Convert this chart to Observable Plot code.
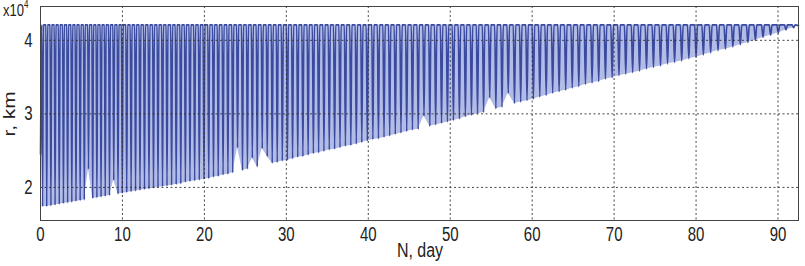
<!DOCTYPE html>
<html><head><meta charset="utf-8">
<script src="https://cdn.jsdelivr.net/npm/d3@7"></script>
<script src="https://cdn.jsdelivr.net/npm/@observablehq/plot@0.6"></script>
<style>
body{margin:0;background:#fff;}
svg text{font-family:"Liberation Sans",Arial,sans-serif;}
</style></head><body><div id="chart"></div>
<script>
// Perigee passages: day and radius (x10^4 km)
const perigeeDay = [
0.25,0.76,1.27,1.78,2.29,2.80,3.31,3.82,4.33,4.84,5.35,5.86,6.37,6.88,7.39,7.90,8.42,8.94,9.46,9.98,
10.52,11.06,11.60,12.14,12.69,13.24,13.79,14.34,14.89,15.44,16.00,16.56,17.12,17.68,18.24,18.81,19.38,19.95,
20.53,21.11,21.69,22.28,22.87,23.46,24.05,24.65,25.25,25.85,26.45,27.06,27.67,28.28,28.89,29.51,
30.13,30.76,31.39,32.02,32.66,33.30,33.94,34.59,35.24,35.89,36.55,37.21,37.87,38.54,39.21,39.88,
40.56,41.24,41.92,42.61,43.30,43.99,44.69,45.39,46.09,46.80,47.51,48.22,48.94,49.66,
50.39,51.12,51.85,52.59,53.33,54.07,54.82,55.57,56.32,57.08,57.84,58.60,59.37,
60.15,60.93,61.71,62.50,63.29,64.09,64.89,65.69,66.50,67.31,68.12,68.94,69.76,
70.59,71.42,72.26,73.10,73.95,74.80,75.66,76.52,77.38,78.25,79.12,80.00,
80.89,81.78,82.68,83.58,84.49,85.40,86.32,87.24,88.17,89.10,90.03,90.97,91.91
];
const perigeeR = [
1.74,1.74,1.75,1.76,1.77,1.78,1.79,1.80,1.81,1.82,1.83,2.25,1.85,1.86,1.87,1.88,1.89,2.10,1.91,1.92,
1.93,1.94,1.95,1.96,1.97,1.98,1.99,2.00,2.01,2.02,2.03,2.04,2.05,2.07,2.08,2.09,2.10,2.11,
2.12,2.14,2.15,2.17,2.18,2.20,2.54,2.23,2.25,2.40,2.28,2.53,2.42,2.33,2.34,2.36,
2.37,2.39,2.41,2.42,2.44,2.46,2.47,2.49,2.51,2.52,2.54,2.56,2.57,2.59,2.61,2.63,
2.65,2.66,2.68,2.70,2.72,2.74,2.76,2.78,2.79,2.97,2.83,2.85,2.87,2.89,
2.91,2.93,2.96,2.98,3.00,3.02,3.22,3.07,3.09,3.28,3.14,3.16,3.18,
3.20,3.23,3.25,3.28,3.30,3.32,3.35,3.37,3.40,3.42,3.44,3.47,3.49,
3.52,3.54,3.56,3.58,3.61,3.63,3.65,3.68,3.70,3.72,3.75,3.77,
3.80,3.83,3.86,3.88,3.91,3.94,3.97,4.00,4.04,4.07,4.10,4.14,4.17
];
const apogeeR = 4.21;              // apogee radius, x10^4 km
const startDay = 0, startR = 2.45; // first sample of the curve
const endDay = 92.5, endR = 4.20;  // last sample (circularised)
const xTicks = [0,10,20,30,40,50,60,70,80,90];
const yTicks = [2,3,4];

const blue = "#3a4a9e", lav = "#b3bce6";
const orbits = perigeeDay.map((d,i)=>{
  const prev = i>0 ? perigeeDay[i-1] : d-(perigeeDay[1]-d);
  const next = i<perigeeDay.length-1 ? perigeeDay[i+1] : d+(d-perigeeDay[i-1]);
  return {day:d, rp:perigeeR[i], ra:apogeeR, P:(next-prev)/2};
});
// curve: each orbit dips from the apogee plateau to its perigee and back
const curve = [{day:startDay, r:startR}];
orbits.forEach(o=>{
  curve.push({day:o.day-0.2*o.P, r:o.ra}, {day:o.day, r:o.rp}, {day:o.day+0.2*o.P, r:o.ra});
});
curve.push({day:endDay, r:endR});

const plot = Plot.plot({
  width:805, height:266, marginLeft:40, marginRight:7, marginTop:6, marginBottom:46,
  x:{domain:[0,92.5], ticks:xTicks, tickSize:0, tickPadding:7, label:null, tickFormat:"d"},
  y:{domain:[1.55,4.46], ticks:yTicks, tickSize:0, tickPadding:8, label:null, tickFormat:"d"},
  style:{fontSize:"15px", color:"#222", background:"#fff"},
  marks:[
    Plot.areaY(orbits,{x:"day", y1:"rp", y2:"ra", fill:lav}),
    Plot.line(curve,{x:"day", y:"r", stroke:blue, strokeWidth:1.6, curve:"monotone-x"}),
    Plot.ruleX(xTicks,{stroke:"#333", strokeWidth:0.9, strokeDasharray:"2,2.5"}),
    Plot.ruleY(yTicks,{stroke:"#333", strokeWidth:0.9, strokeDasharray:"2,2.5"}),
    Plot.frame({stroke:"#444"})
  ]
});
document.getElementById("chart").appendChild(plot);
const svg = d3.select(plot);
// stretch text vertically like the reference figure
svg.selectAll("g[aria-label='x-axis tick label'] text, g[aria-label='y-axis tick label'] text")
  .each(function(){ const t=this.getAttribute("transform")||""; this.setAttribute("transform", t+" scale(1,1.3)"); });
const t1 = svg.append("text").attr("transform","translate(3,16) scale(1,1.3)").attr("text-anchor","start")
  .attr("font-size",13).attr("fill","#222");
t1.append("tspan").text("x10");
t1.append("tspan").attr("font-size",8).attr("dy",-6).text("4");
svg.append("text").attr("transform","translate(15,114) rotate(-90) scale(1.3,1)").attr("text-anchor","middle")
  .attr("font-size",16).attr("fill","#222").text("r, km");
svg.append("text").attr("transform","translate(420,257) scale(1,1.3)").attr("text-anchor","middle")
  .attr("font-size",16).attr("fill","#222").text("N, day");
</script></body></html>
